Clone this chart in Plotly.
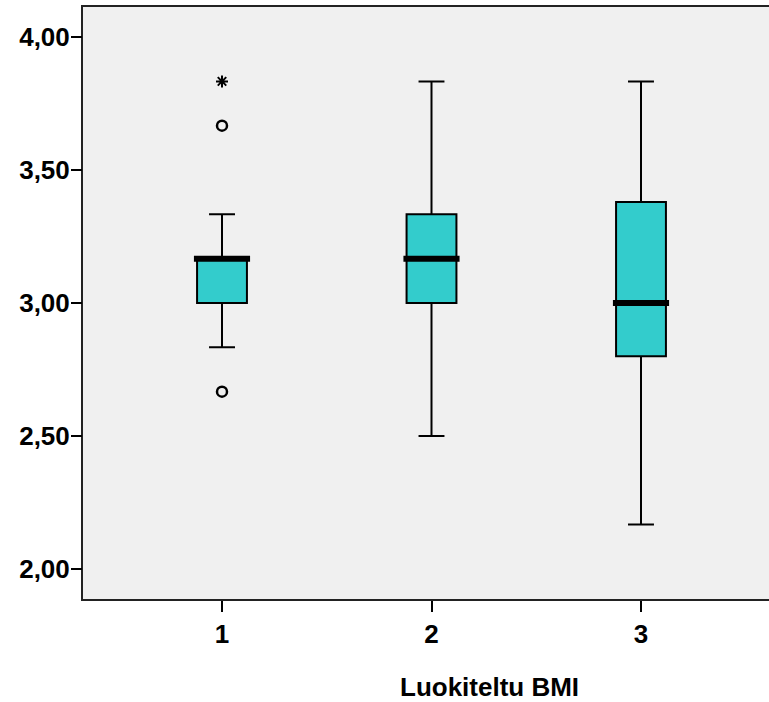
import plotly.graph_objects as go

categories = [1, 2, 3]
q1 = [3.00, 3.00, 2.80]
medians = [3.1667, 3.1667, 3.00]
q3 = [3.1667, 3.3333, 3.38]
lower_whisker = [2.8333, 2.50, 2.1667]
upper_whisker = [3.3333, 3.8333, 3.8333]

outlier_x = [1, 1]
outlier_y = [3.6667, 2.6667]
extreme_x = [1]
extreme_y = [3.8333]

y_ticks = [2.0, 2.5, 3.0, 3.5, 4.0]
y_tick_labels = ["2,00", "2,50", "3,00", "3,50", "4,00"]
x_title = "Luokiteltu BMI"

FILL = "#33CCCC"
FONT = "Liberation Sans, Arial, sans-serif"
FS = 26
Y_RANGE = [1.887, 4.113]

fig = go.Figure()
for i, c in enumerate(categories):
    fig.add_trace(go.Box(
        x=[c], q1=[q1[i]], median=[medians[i]], q3=[q3[i]],
        lowerfence=[lower_whisker[i]], upperfence=[upper_whisker[i]],
        fillcolor=FILL, line=dict(color="black", width=2),
        width=0.238, whiskerwidth=0.52, boxpoints=False,
        showlegend=False, hoverinfo="skip",
    ))

# thick median bars
for i, c in enumerate(categories):
    fig.add_trace(go.Scatter(
        x=[c - 0.134, c + 0.134], y=[medians[i], medians[i]],
        mode="lines", line=dict(color="black", width=6),
        showlegend=False, hoverinfo="skip",
    ))

fig.add_trace(go.Scatter(
    x=outlier_x, y=outlier_y, mode="markers",
    marker=dict(symbol="circle-open", size=10, color="black", line=dict(width=2.5)),
    showlegend=False, hoverinfo="skip",
))
fig.add_trace(go.Scatter(
    x=extreme_x, y=extreme_y, mode="markers",
    marker=dict(symbol="asterisk-open", size=10, color="black", line=dict(width=2, color="black")),
    showlegend=False, hoverinfo="skip",
))
# invisible trace on the tick-only overlay axis
fig.add_trace(go.Scatter(x=[categories[0]], y=[y_ticks[0]], yaxis="y2", mode="markers",
                         marker=dict(opacity=0), showlegend=False, hoverinfo="skip"))

fig.add_annotation(
    text=x_title, xref="paper", x=(489 - 83) / (769 - 83), y=-(687 - 599) / (599 - 7), yref="paper",
    showarrow=False, font=dict(family=FONT, size=FS, color="black", weight="bold"),
    xanchor="center", yanchor="middle",
)

fig.update_layout(
    width=769, height=702,
    margin=dict(l=83, r=0, t=7, b=103, autoexpand=False),
    paper_bgcolor="white", plot_bgcolor="#F0F0F0",
    font=dict(family=FONT, size=FS, color="black"),
    xaxis=dict(
        range=[0.3365, 3.611], tickmode="array", tickvals=categories,
        ticktext=[str(c) for c in categories], automargin=False,
        showgrid=False, zeroline=False, showline=True, linecolor="#222222", linewidth=2,
        mirror=True, ticks="outside", ticklen=11, tickwidth=1.5, tickcolor="black",
        tickfont=dict(family=FONT, size=FS, color="black", weight="bold"),
    ),
    yaxis=dict(
        range=Y_RANGE, tickmode="array", tickvals=y_ticks, ticktext=y_tick_labels,
        automargin=False,
        showgrid=False, zeroline=False, showline=True, linecolor="#222222", linewidth=2,
        ticks="outside", ticklen=6, tickwidth=1.5, tickcolor="rgba(0,0,0,0)",
        tickfont=dict(family=FONT, size=FS, color="black", weight="bold"),
    ),
    yaxis2=dict(
        range=Y_RANGE, overlaying="y", side="left", tickmode="array", tickvals=y_ticks,
        showticklabels=False, automargin=False, showgrid=False, zeroline=False,
        showline=False, ticks="outside", ticklen=11, tickwidth=1.5, tickcolor="black",
    ),
)

fig.write_html(
    "out.html",
    config={"displayModeBar": False},
    post_script="document.body.style.margin='0';document.body.style.overflow='hidden';",
)
